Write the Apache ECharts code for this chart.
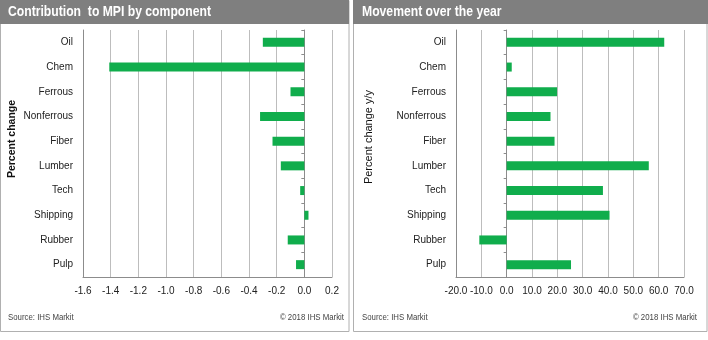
<!DOCTYPE html>
<html><head><meta charset="utf-8">
<script src="https://cdn.jsdelivr.net/npm/echarts@6/dist/echarts.min.js"></script>
<style>html,body{margin:0;padding:0;background:#fff}#c{width:708px;height:340px}</style>
</head><body><div id="c"></div>
<script>
const categories = ['Oil','Chem','Ferrous','Nonferrous','Fiber','Lumber','Tech','Shipping','Rubber','Pulp'];
const contribution = [-0.30,-1.41,-0.10,-0.32,-0.23,-0.17,-0.03,0.03,-0.12,-0.06];
const movement = [62.2,2.0,19.9,17.3,18.9,56.1,38.0,40.6,-10.8,25.4];
const leftTitle = 'Contribution  to MPI by component';
const rightTitle = 'Movement over the year';
const leftAxisName = 'Percent change';
const rightAxisName = 'Percent change y/y';
const sourceText = 'Source: IHS Markit';
const copyText = '\u00a9 2018 IHS Markit';

const FONT = 'Liberation Sans, Arial, sans-serif';
const GREEN = '#10ad4c';
const SX = 0.87;
const chart = echarts.init(document.getElementById('c'));

function valueAxis(grid, min, max, interval){
  return {type:'value', gridIndex:grid, min:min, max:max, interval:interval,
    axisLine:{show:true, onZero:false, lineStyle:{color:'#8c8c8c'}},
    axisTick:{show:false},
    splitLine:{show:true, lineStyle:{color:'#bdbdbd', width:1}},
    axisLabel:{color:'#222', fontFamily:FONT, fontSize:10, margin:9,
      formatter:v=>(Math.round(v*10)/10).toFixed(1)}};
}
function catAxisLabels(grid){
  return {type:'category', gridIndex:grid, data:categories, inverse:true,
    axisLine:{show:true, onZero:false, lineStyle:{color:'#8c8c8c'}},
    axisTick:{show:false},
    axisLabel:{color:'#222', fontFamily:FONT, fontSize:10, margin:10}};
}
function catAxisZero(grid, xIndex){
  return {type:'category', gridIndex:grid, data:categories, inverse:true, position:'left',
    axisLine:{show:true, onZero:true, onZeroAxisIndex:xIndex, lineStyle:{color:'#8c8c8c'}},
    axisTick:{show:true, length:3, inside:false, lineStyle:{color:'#8c8c8c'}},
    axisLabel:{show:false}, splitLine:{show:false}};
}
function txt(x, y, text, font, fill, align, extra){
  return Object.assign({type:'text', x:x, y:y, scaleX:SX,
    style:{text:text, fill:fill, font:font, align:align||'left', verticalAlign:'middle'}}, extra||{});
}

const option = {
  animation:false,
  backgroundColor:'#fff',
  grid:[
    {left:83, right:376, top:30, bottom:63},
    {left:456, right:24, top:30, bottom:63}
  ],
  xAxis:[valueAxis(0,-1.6,0.2,0.2), valueAxis(1,-20,70,10)],
  yAxis:[catAxisLabels(0), catAxisZero(0,0), catAxisLabels(1), catAxisZero(1,1)],
  series:[
    {type:'bar', xAxisIndex:0, yAxisIndex:0, data:contribution, barWidth:9, itemStyle:{color:GREEN}},
    {type:'bar', xAxisIndex:1, yAxisIndex:2, data:movement, barWidth:9, itemStyle:{color:GREEN}}
  ],
  graphic:[
    {type:'rect', shape:{x:0.5,y:0.5,width:348.5,height:331}, style:{fill:'none', stroke:'#b0b0b0', lineWidth:1}, z:-1},
    {type:'rect', shape:{x:353.5,y:0.5,width:353.5,height:331}, style:{fill:'none', stroke:'#b0b0b0', lineWidth:1}, z:-1},
    {type:'rect', shape:{x:0,y:0,width:349,height:24}, style:{fill:'#7f7f7f'}},
    {type:'rect', shape:{x:353,y:0,width:355,height:24}, style:{fill:'#7f7f7f'}},
    txt(8, 12.5, leftTitle, 'bold 14px '+FONT, '#fff'),
    txt(362, 12.5, rightTitle, 'bold 14px '+FONT, '#fff'),
    txt(8, 318, sourceText, '9px '+FONT, '#444'),
    txt(344, 318, copyText, '9px '+FONT, '#444', 'right'),
    txt(362, 318, sourceText, '9px '+FONT, '#444'),
    txt(697, 318, copyText, '9px '+FONT, '#444', 'right'),
    {type:'text', x:12, y:139, rotation:Math.PI/2,
      style:{text:leftAxisName, fill:'#111', font:'bold 10.5px '+FONT, align:'center', verticalAlign:'middle'}},
    {type:'text', x:369, y:137, rotation:Math.PI/2,
      style:{text:rightAxisName, fill:'#111', font:'11px '+FONT, align:'center', verticalAlign:'middle'}}
  ]
};
chart.setOption(option);
</script></body></html>
